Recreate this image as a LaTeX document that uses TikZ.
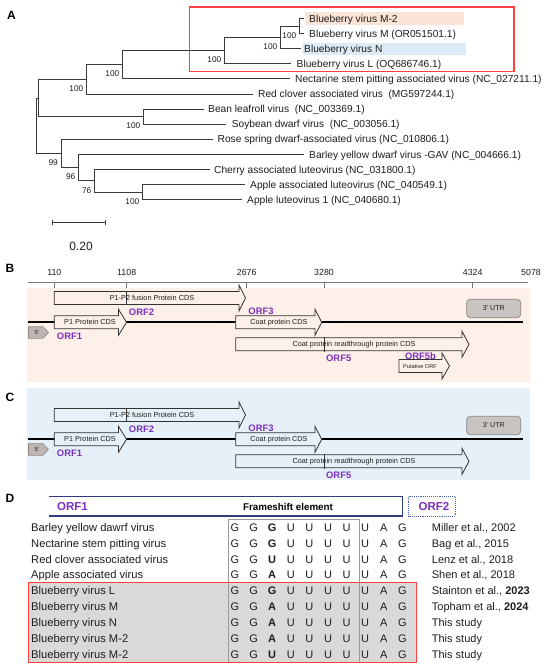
\documentclass[tikz,border=0pt]{standalone}
\usepackage{fontspec}
\setmainfont{Liberation Sans}
\definecolor{treecol}{HTML}{3A3A3A}
\definecolor{txtcol}{HTML}{1E1E1E}
\definecolor{hlpeach}{HTML}{FBE4D6}
\definecolor{hlblue}{HTML}{DDEBF7}
\definecolor{boxred}{HTML}{FF4040}
\definecolor{bgpeach}{HTML}{FDF0E9}
\definecolor{bgblue}{HTML}{E6F0F8}
\definecolor{orfcol}{HTML}{7B2FBE}
\definecolor{arrcol}{HTML}{333333}
\definecolor{utrfill}{HTML}{C8C4C2}
\definecolor{utrdraw}{HTML}{8A8685}
\definecolor{rulercol}{HTML}{777777}
\definecolor{navy}{HTML}{2F3C7E}
\definecolor{dotblue}{HTML}{4A5FB0}
\definecolor{gridgray}{HTML}{9A9A9A}
\definecolor{cellgray}{HTML}{D9D9D9}
\definecolor{fivefill}{HTML}{BDB6B2}
\definecolor{fivedraw}{HTML}{8F8A87}
\newcommand\cdsarr[6]{%
  \draw[cdsbox, fill=#2] (#3,#6-6.5) -- (#4,#6-6.5) -- (#4,#6-13) -- (#5,#6) -- (#4,#6+13) -- (#4,#6+6.5) -- (#3,#6+6.5) -- cycle;
  \coordinate (#1) at (#5,#6);
}
\newcommand\genomemap[2]{%
  \draw[genome] (28,321.7) coordinate (#1gs) -- (523,321.7) coordinate (#1ge);
  \draw[fivep] (28.5,326.7) -- (43,326.7) -- (48.5,332.5) -- (43,338.3) -- (28.5,338.3) -- cycle;
  \node[fivetxt] (#1five) at (37,332.5) {5'};
  \node[utr] (#1utr) at (493.7,308.5) {3' UTR};
  \cdsarr{#1fus}{#2}{54.3}{239}{245.5}{298}
  \draw[sepline] (126.7,291.5) -- (126.7,304.5);
  \node[cdstxt] (#1fust) at (152,297.8) {P1-P2 fusion Protein CDS};
  \node[orf] (#1orf2) at (141.5,311.7) {ORF2};
  \cdsarr{#1pone}{#2}{54.3}{118.5}{126.5}{322.3}
  \node[cdstxt] (#1ponet) at (90,322.3) {P1 Protein CDS};
  \node[orf] (#1orf1) at (69.5,335.7) {ORF1};
  \cdsarr{#1coat}{#2}{235.7}{315}{321.7}{322.3}
  \node[cdstxt] (#1coatt) at (279,322.3) {Coat protein CDS};
  \node[orf] (#1orf3) at (261,311) {ORF3};
  \cdsarr{#1rt}{#2}{235.7}{462}{469}{344.3}
  \draw[sepline] (324,336.5) -- (324,352);
  \node[cdstxt] (#1rtt) at (354,344.3) {Coat protein readthrough protein CDS};
  \node[orf] (#1orf5) at (338.7,358.5) {ORF5};
}
\newcommand\nrow[5]{%
  \node[rowname] (rn#1) at (31,#2) {#3};
  \foreach \k/\ch in {0/G,1/G,3/U,4/U,5/U,6/U,7/U,8/A,9/G}
    \node[nuc] (nt#1-\k) at ({235+18.6*\k},#2) {\ch};
  \node[nuc, font=\fontsize{11}{13}\selectfont\bfseries] (nt#1-2) at (272.2,#2) {#4};
  \node[refr] (rf#1) at (431.7,#2) {#5};
}
\begin{document}
\begin{tikzpicture}[x=1pt,y=-1pt,
  tree/.style={draw=treecol, line width=0.85pt},
  leaf/.style={anchor=west, inner sep=0pt, text height=7.3pt, text depth=0pt, font=\fontsize{10.2}{11}\selectfont, text=txtcol},
  boot/.style={anchor=east, inner sep=0pt, text height=5.9pt, text depth=0pt, font=\fontsize{8.3}{9}\selectfont, text=txtcol},
  panel/.style={inner sep=0pt, text height=8.6pt, text depth=0pt, font=\fontsize{12}{14}\selectfont\bfseries, text=black},
  cdsbox/.style={draw=arrcol, line width=0.8pt},
  cdstxt/.style={inner sep=0pt, text height=5.3pt, text depth=0pt, font=\fontsize{7.3}{8}\selectfont, text=txtcol},
  orf/.style={inner sep=0pt, text height=6.7pt, text depth=0pt, font=\fontsize{9.4}{10}\selectfont\bfseries, text=orfcol},
  ticklab/.style={inner sep=0pt, text height=6.3pt, text depth=0pt, font=\fontsize{8.8}{10}\selectfont, text=txtcol},
  genome/.style={draw=black, line width=1.8pt},
  sepline/.style={draw=arrcol, line width=0.7pt},
  fivep/.style={draw=fivedraw, fill=fivefill, line width=0.6pt},
  fivetxt/.style={inner sep=0pt, font=\fontsize{6}{7}\selectfont, text=txtcol},
  utr/.style={draw=utrdraw, fill=utrfill, line width=0.7pt, rounded corners=3.5pt, minimum width=54pt, minimum height=18.4pt, inner sep=0pt, font=\fontsize{7}{8}\selectfont, text=txtcol},
  rowname/.style={anchor=west, inner sep=0pt, text height=7.9pt, text depth=0pt, font=\fontsize{11.2}{13}\selectfont, text=txtcol},
  nuc/.style={inner sep=0pt, text height=7.9pt, text depth=0pt, font=\fontsize{11}{13}\selectfont, text=txtcol},
  refr/.style={anchor=west, inner sep=0pt, text height=7.9pt, text depth=0pt, font=\fontsize{11}{13}\selectfont, text=txtcol},
  hdr/.style={inner sep=0pt, text height=7pt, text depth=0pt, font=\fontsize{9.8}{11}\selectfont\bfseries, text=black},
  hdrorf/.style={inner sep=0pt, text height=8.2pt, text depth=0pt, font=\fontsize{11.5}{13}\selectfont\bfseries, text=orfcol},
]
\useasboundingbox (0,0) rectangle (550,668);
\fill[white] (0,0) rectangle (550,668);

% ---------------- Panel A ----------------
\node[panel] (labA) at (11.5,15) {A};
\fill[hlpeach] (305.3,12.5) rectangle (464.2,25.3);
\fill[hlblue] (302.5,42.6) rectangle (465.6,55);
\draw[boxred, line width=1.1pt] (189.5,7) rectangle (514,71.7);

\coordinate (n1) at (299,26.05);
\coordinate (n2) at (280,37.4);
\coordinate (n3) at (224,50.6);
\coordinate (n4) at (122,64.75);
\coordinate (n5) at (86,79.4);
\coordinate (n6) at (143,116.65);
\coordinate (n7) at (38.3,98.0);
\coordinate (n8) at (142,192.15);
\coordinate (n9) at (94,180.8);
\coordinate (n10) at (78,167.6);
\coordinate (n11) at (61,153.45);
\coordinate (root) at (36,125.7);
\coordinate (tM2) at (304,18.5);
\coordinate (tM) at (304,33.6);
\coordinate (tN) at (301,48.7);
\coordinate (tL) at (291,63.8);
\coordinate (tNe) at (289.5,78.9);
\coordinate (tRe) at (252.6,94);
\coordinate (tBe) at (203.5,109.1);
\coordinate (tSo) at (226,124.2);
\coordinate (tRo) at (213,139.3);
\coordinate (tBa) at (303.5,154.4);
\coordinate (tCh) at (209.5,169.5);
\coordinate (tAa) at (245,184.6);
\coordinate (tAl) at (242,199.7);

\draw[tree] (n1) |- (tM2);
\draw[tree] (n1) |- (tM);
\draw[tree] (n2) |- (n1);
\draw[tree] (n2) |- (tN);
\draw[tree] (n3) |- (n2);
\draw[tree] (n3) |- (tL);
\draw[tree] (n4) |- (n3);
\draw[tree] (n4) |- (tNe);
\draw[tree] (n5) |- (n4);
\draw[tree] (n5) |- (tRe);
\draw[tree] (n6) |- (tBe);
\draw[tree] (n6) |- (tSo);
\draw[tree] (n7) |- (n5);
\draw[tree] (n7) |- (n6);
\draw[tree] (n8) |- (tAa);
\draw[tree] (n8) |- (tAl);
\draw[tree] (n9) |- (tCh);
\draw[tree] (n9) |- (n8);
\draw[tree] (n10) |- (tBa);
\draw[tree] (n10) |- (n9);
\draw[tree] (n11) |- (tRo);
\draw[tree] (n11) |- (n10);
\draw[tree] (root) |- (n7);
\draw[tree] (root) |- (n11);

\node[leaf] (lM2) at (309,18.5) {Blueberry virus M-2};
\node[leaf] (lM) at (309,33.6) {Blueberry virus M (OR051501.1)};
\node[leaf] (lN) at (304,48.7) {Blueberry virus N};
\node[leaf] (lL) at (296.5,63.8) {Blueberry virus L (OQ686746.1)};
\node[leaf] (lNe) at (295,78.9) {Nectarine stem pitting associated virus (NC\_027211.1)};
\node[leaf] (lRe) at (258,94) {Red clover associated virus\ \ (MG597244.1)};
\node[leaf] (lBe) at (208,109.1) {Bean leafroll virus\ \ (NC\_003369.1)};
\node[leaf] (lSo) at (231.6,124.2) {Soybean dwarf virus\ \ (NC\_003056.1)};
\node[leaf] (lRo) at (217.5,139.3) {Rose spring dwarf-associated virus (NC\_010806.1)};
\node[leaf] (lBa) at (309,154.4) {Barley yellow dwarf virus -GAV (NC\_004666.1)};
\node[leaf] (lCh) at (214,169.5) {Cherry associated luteovirus (NC\_031800.1)};
\node[leaf] (lAa) at (250,184.6) {Apple associated luteovirus (NC\_040549.1)};
\node[leaf] (lAl) at (247,199.7) {Apple luteovirus 1 (NC\_040680.1)};

\node[boot] (b1) at (296.5,35.4) {100};
\node[boot] (b2) at (277.5,46.7) {100};
\node[boot] (b3) at (221.5,59.9) {100};
\node[boot] (b4) at (119.5,74) {100};
\node[boot] (b5) at (83.5,88.4) {100};
\node[boot] (b6) at (140.5,126) {100};
\node[boot] (b8) at (139.5,201.6) {100};
\node[boot] (b11) at (58,163) {99};
\node[boot] (b10) at (75.5,176.8) {96};
\node[boot] (b9) at (91.5,190.7) {76};

\coordinate (sbL) at (52.6,222.7);
\coordinate (sbR) at (105.5,222.7);
\draw[tree] (sbL) -- (sbR);
\draw[tree] ([yshift=-2.6pt]sbL) -- ([yshift=2.6pt]sbL);
\draw[tree] ([yshift=-2.6pt]sbR) -- ([yshift=2.6pt]sbR);
\node[inner sep=0pt, font=\fontsize{12}{14}\selectfont, text=txtcol] (sbt) at (81,246.7) {0.20};

% ---------------- Panel B ----------------
\node[panel] (labB) at (10,268) {B};
\fill[bgpeach] (27,288) rectangle (530,381.5);
\draw[rulercol, line width=0.7pt] (28,282.7) coordinate (rs) -- (528,282.7) coordinate (re);
\foreach \x/\t in {54.3/110,126.7/1108,246.7/2676,324/3280,472.7/4324}{
  \draw[rulercol, line width=0.7pt] (\x,282.7) -- (\x,287.5);
  \node[ticklab] (tk\t) at (\x,272.7) {\t};
}
\node[ticklab] (tk5078) at (531,272.7) {5078};
\genomemap{B}{bgpeach}
\cdsarr{Bput}{bgpeach}{399}{442}{449.5}{366}
\node[inner sep=0pt, text height=4pt, text depth=0pt, font=\fontsize{5.6}{6}\selectfont, text=txtcol] (Bputt) at (420,366) {Putative ORF};
\node[orf] (Borf5b) at (420.5,356) {ORF5b};

% ---------------- Panel C ----------------
\node[panel] (labC) at (10,397.5) {C};
\fill[bgblue] (27,387.5) rectangle (530,480);
\begin{scope}[shift={(0,117)}]
\genomemap{C}{bgblue}
\end{scope}

% ---------------- Panel D ----------------
\node[panel] (labD) at (10,498) {D};
\draw[navy, line width=1.1pt] (49.3,496.7) coordinate (h1) -- (402.7,496.7) -- (402.7,516) -- (49.3,516) coordinate (h2);
\draw[dotblue, line width=0.9pt, densely dotted] (408.5,496.7) rectangle (455,516);
\node[hdrorf] (dorf1) at (72.5,506.7) {ORF1};
\node[hdr] (dfs) at (288,506.7) {Frameshift element};
\node[hdrorf] (dorf2) at (434,506.7) {ORF2};

\fill[cellgray] (28.3,582.3) rectangle (416.7,662.3);
\draw[gridgray, line width=0.6pt] (228.3,662.3) -- (228.3,519.3) -- (359,519.3) -- (359,662.3);

\nrow{1}{527.3}{Barley yellow dawrf virus}{G}{Miller et al., 2002}
\nrow{2}{543.2}{Nectarine stem pitting virus}{G}{Bag et al., 2015}
\nrow{3}{559.1}{Red clover associated virus}{U}{Lenz et al., 2018}
\nrow{4}{575}{Apple associated virus}{A}{Shen et al., 2018}
\nrow{5}{590.9}{Blueberry virus L}{G}{Stainton et al., \textbf{2023}}
\nrow{6}{606.8}{Blueberry virus M}{A}{Topham et al., \textbf{2024}}
\nrow{7}{622.7}{Blueberry virus N}{A}{This study}
\nrow{8}{638.6}{Blueberry virus M-2}{A}{This study}
\nrow{9}{654.5}{Blueberry virus M-2}{U}{This study}

\draw[boxred, line width=1.2pt] (28.3,582.3) rectangle (416.7,662.3);
\end{tikzpicture}
\end{document}
